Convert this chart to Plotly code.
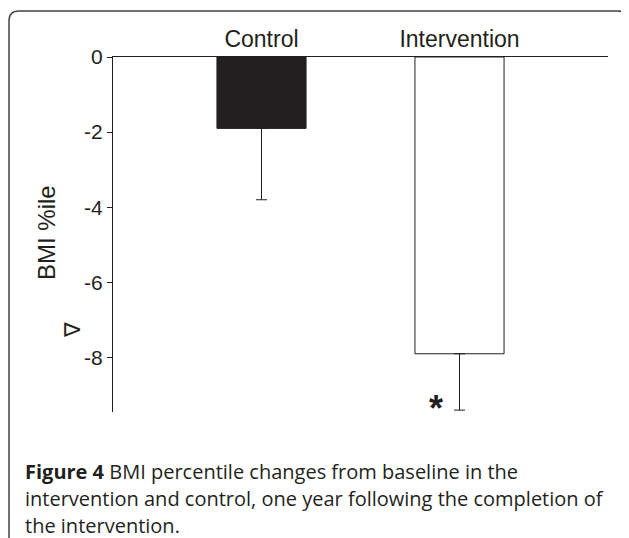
import plotly.graph_objects as go

# ---- data ----
categories = ["Control", "Intervention"]
mean_change = [-1.9, -7.9]
err_minus = [1.9, 1.5]
y_tick_vals = [0, -2, -4, -6, -8]
y_tick_text = ["0", "-2", "-4", "-6", "-8"]
y_range = [-9.45, 0]
bar_colors = ["#231f20", "#ffffff"]

OFF = 8  # page body margin
W, H = 621, 530
L, R, T, B = 105, 21, 49, 126
pw, ph = W - L - R, H - T - B

def px(x):
    return (x - OFF - L) / pw

def py(y):
    return (H - B - (y - OFF)) / ph

fig = go.Figure()
fig.add_trace(go.Bar(
    x=categories, y=mean_change, width=0.45,
    marker=dict(color=bar_colors, line=dict(color="#231f20", width=1)),
    error_y=dict(type="data", symmetric=False, array=[0, 0], arrayminus=err_minus,
                 color="#231f20", thickness=1, width=5.5),
    showlegend=False,
))

# significance star at the intervention's lower error bound
fig.add_annotation(x=categories[1], y=mean_change[1] - err_minus[1], xref="x", yref="y",
                   text="<b>*</b>", showarrow=False, xshift=-24, yshift=2,
                   font=dict(family="Liberation Sans", size=36, color="#231f20"))

# y title
fig.add_annotation(x=px(46), y=py(233), xref="paper", yref="paper", text="BMI %ile",
                   textangle=-90, showarrow=False, xanchor="center", yanchor="middle",
                   font=dict(family="Liberation Sans", size=24, color="#231f20"))
fig.add_annotation(x=px(72), y=py(330), xref="paper", yref="paper", text="∇",
                   textangle=-90, showarrow=False, xanchor="center", yanchor="middle",
                   font=dict(family="Liberation Sans", size=22, color="#231f20"))

# caption
cap_lines = ["<b>Figure 4</b> BMI percentile changes from baseline in the",
             "intervention and control, one year following the completion of",
             "the intervention."]
for i, line in enumerate(cap_lines):
    fig.add_annotation(x=px(23), y=py(471 + 27 * i), xref="paper", yref="paper", text=line,
                       showarrow=False, xanchor="left", yanchor="middle",
                       font=dict(family="Open Sans", size=20, color="#231f20"))

# frame (open at bottom, rounded top corners)
r = 10
xl, xr, yt, yb = 9, 627.5, 11, 545
path = (f"M {px(xl)},{py(yb)} L {px(xl)},{py(yt + r)} Q {px(xl)},{py(yt)} {px(xl + r)},{py(yt)} "
        f"L {px(xr - r)},{py(yt)} Q {px(xr)},{py(yt)} {px(xr)},{py(yt + r)} "
        f"L {px(xr)},{py(yb)}")
fig.add_shape(type="path", path=path, xref="paper", yref="paper",
              line=dict(color="#444444", width=1.5))

fig.update_layout(
    width=W, height=H, margin=dict(l=L, r=R, t=T, b=B),
    plot_bgcolor="white", paper_bgcolor="white",
    font=dict(family="Liberation Sans", color="#231f20"),
    xaxis=dict(side="top", range=[-0.75, 1.75], showline=True, linecolor="#231f20",
               linewidth=1, ticks="", showgrid=False, zeroline=False,
               tickfont=dict(size=23, color="#231f20")),
    yaxis=dict(range=y_range, tickvals=y_tick_vals, ticktext=y_tick_text,
               showline=True, linecolor="#231f20", linewidth=1, ticks="outside",
               ticklen=5, tickcolor="#231f20", showgrid=False, zeroline=False,
               tickfont=dict(size=21, color="#231f20")),
)

fig.write_html("out.html")
